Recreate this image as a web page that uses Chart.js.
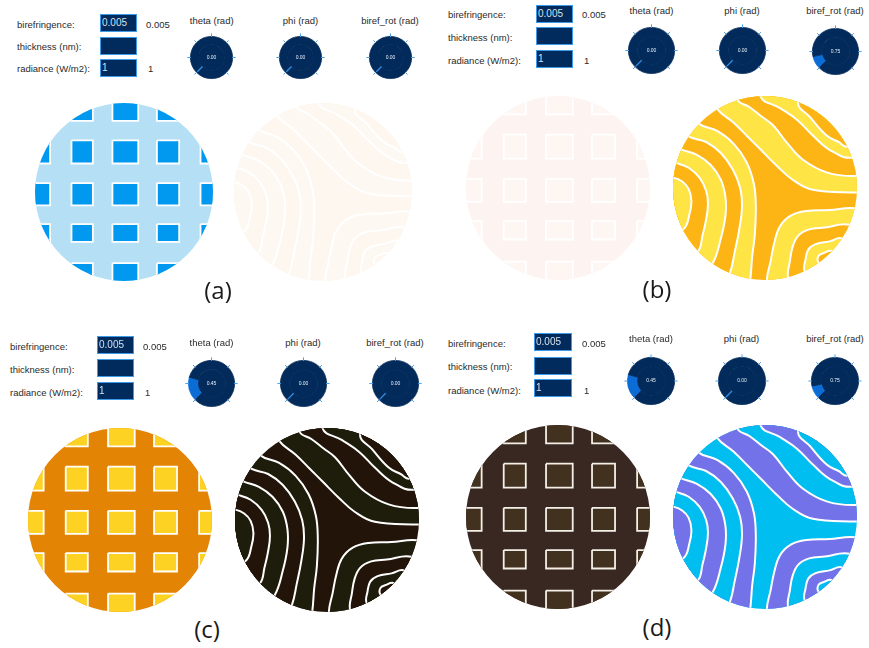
<!DOCTYPE html>
<html><head><meta charset="utf-8">
<script src="https://cdn.jsdelivr.net/npm/chart.js@4.4.1/dist/chart.umd.min.js"></script>
<style>
html,body{margin:0;padding:0;background:#fff;}
#page{position:relative;width:869px;height:648px;overflow:hidden;font-family:"Liberation Sans",Arial,sans-serif;color:#2a2a2a;}
.lbl{position:absolute;font-size:9.5px;line-height:12px;white-space:nowrap;transform:translateY(-50%);}
.box{position:absolute;background:#012b5c;border:1px solid #3d9ae8;box-sizing:border-box;color:#d6e0ec;font-size:10px;line-height:16px;padding-left:1px;overflow:hidden;}
.ttl{position:absolute;font-size:9.5px;line-height:12px;transform:translate(-50%,-50%);white-space:nowrap;}
.tag{position:absolute;font-family:"Open Sans",sans-serif;font-size:24px;line-height:30px;transform:translate(-50%,-50%);color:#1a1a1a;}
canvas{position:absolute;}
</style></head><body><div id="page"></div>
<script>
// ---- values shown in the four panels ----
const panelTags = ['(a)', '(b)', '(c)', '(d)'];
const formLabels = ['birefringence:', 'thickness (nm):', 'radiance (W/m2):'];
const birefringence = [0.005, 0.005, 0.005, 0.005];
const thicknessText = ['', '', '', ''];
const radiance = [1, 1, 1, 1];

const dialNames = ['theta (rad)', 'phi (rad)', 'biref_rot (rad)'];
const dialMax = [2, 2 * Math.PI, 2 * Math.PI];
const thetaValues = [0.00, 0.00, 0.45, 0.45];
const phiValues = [0.00, 0.00, 0.00, 0.00];
const birefRotValues = [0.00, 0.75, 0.00, 0.75];

// ---- cell pattern (unit-disc coordinates, y downward) ----
const cellLeft = [-1.07, -0.59, -0.13, 0.37, 0.86];
const cellRight = [-0.83, -0.35, 0.16, 0.62, 1.10];
const cellTop = [-1.04, -0.58, -0.10, 0.36, 0.80];
const cellBottom = [-0.80, -0.32, 0.15, 0.56, 1.05];

// ---- fringe contours (unit-disc coordinates), innermost-to-centre first ----
const leftFringes = [
  [[-0.72,-0.70],[-0.52,-0.62],[-0.34,-0.48],[-0.20,-0.28],[-0.12,-0.04],[-0.10,0.20],[-0.11,0.50],[-0.14,0.75],[-0.16,0.99]],
  [[-0.83,-0.56],[-0.64,-0.50],[-0.48,-0.38],[-0.35,-0.20],[-0.27,0.00],[-0.25,0.20],[-0.28,0.45],[-0.33,0.70],[-0.38,0.92]],
  [[-0.91,-0.42],[-0.74,-0.36],[-0.59,-0.25],[-0.48,-0.09],[-0.43,0.10],[-0.43,0.30],[-0.48,0.55],[-0.57,0.82]],
  [[-0.96,-0.27],[-0.83,-0.22],[-0.71,-0.11],[-0.64,0.03],[-0.62,0.17],[-0.64,0.34],[-0.68,0.52],[-0.73,0.69]],
  [[-0.99,-0.11],[-0.90,-0.07],[-0.83,0.01],[-0.80,0.14],[-0.82,0.28],[-0.89,0.45]]
];
const upperFringes = [
  [[-0.52,-0.86],[-0.34,-0.71],[-0.19,-0.56],[-0.04,-0.41],[0.13,-0.24],[0.30,-0.09],[0.52,0.02],[1.00,0.05]],
  [[-0.30,-0.96],[-0.17,-0.88],[-0.04,-0.78],[0.09,-0.68],[0.24,-0.49],[0.41,-0.31],[0.67,-0.17],[0.99,-0.13]],
  [[-0.05,-1.00],[0.16,-0.87],[0.35,-0.74],[0.52,-0.57],[0.71,-0.41],[0.95,-0.33]],
  [[0.36,-0.93],[0.49,-0.77],[0.67,-0.57],[0.80,-0.50],[0.90,-0.45]]
];
const lowerFringes = [
  [[0.02,1.00],[0.06,0.80],[0.10,0.60],[0.16,0.42],[0.28,0.30],[0.45,0.25],[0.70,0.24],[0.98,0.22]],
  [[0.25,0.97],[0.27,0.80],[0.30,0.64],[0.36,0.52],[0.48,0.45],[0.65,0.43],[0.92,0.40]],
  [[0.43,0.90],[0.44,0.78],[0.47,0.67],[0.55,0.61],[0.70,0.58],[0.84,0.55]],
  [[0.58,0.81],[0.58,0.74],[0.63,0.71],[0.73,0.69]]
];

// ---- styling and layout ----
const NAVY = '#022b5b', WEDGE = '#0b6cd6', NEEDLE = '#2f8fe6', TICK = '#4aa2ee';
const cellStyles = [
  {bg: '#b4dff5', cell: '#0099ef', edge: '#ffffff'},
  {bg: '#fdf4f1', cell: '#fef6f3', edge: '#ffffff'},
  {bg: '#e38405', cell: '#fed222', edge: '#ffffff'},
  {bg: '#392821', cell: '#42311f', edge: '#f4efe8'}
];
const fringeStyles = [
  {base: '#fdf7f0', alt: '#fdf8f2', line: '#ffffff'},
  {base: '#fdb415', alt: '#fee445', line: '#ffffff'},
  {base: '#231409', alt: '#1e1d0c', line: '#ffffff'},
  {base: '#00bef0', alt: '#7472e9', line: '#ffffff'}
];
const layout = [
  {lx: 17, ly: [25, 47, 69], bx: 100, bw: 37, by: [14, 37, 59], bh: 18, vx: 146,
   dials: [[211.7, 57], [300.5, 57], [390, 57]], dr: 21.5, ty: 21,
   cells: [123.5, 192, 89], fringe: [322.5, 192, 89], tag: [218, 290]},
  {lx: 448, ly: [15, 38, 61], bx: 536, bw: 37, by: [5, 27, 50], bh: 18, vx: 582,
   dials: [[651.5, 50.5], [742, 50.5], [835, 51]], dr: 23.5, ty: 11,
   cells: [558, 188, 92], fringe: [765, 187.5, 92], tag: [657, 289]},
  {lx: 10, ly: [347, 370, 393], bx: 97, bw: 37, by: [336, 359, 382], bh: 18, vx: 143,
   dials: [[211.5, 383], [303, 383], [395, 383]], dr: 23.5, ty: 343,
   cells: [119.5, 519.5, 92], fringe: [326.5, 519.5, 92], tag: [207, 629]},
  {lx: 448, ly: [344, 367, 391], bx: 534, bw: 38, by: [333, 357, 379], bh: 18, vx: 582,
   dials: [[651, 381], [741.5, 381], [835, 381]], dr: 24, ty: 339,
   cells: [558, 517, 92], fringe: [765, 517, 92], tag: [657, 627]}
];

const page = document.getElementById('page');
function addDiv(cls, text, style) {
  const d = document.createElement('div');
  d.className = cls; d.textContent = text;
  Object.assign(d.style, style);
  page.appendChild(d);
  return d;
}
function addCanvas(left, top, w, h) {
  const c = document.createElement('canvas');
  c.width = w; c.height = h;
  c.style.left = left + 'px'; c.style.top = top + 'px';
  page.appendChild(c);
  return c;
}
const baseOptions = () => ({
  responsive: false, animation: false, devicePixelRatio: 1, events: [],
  plugins: {legend: {display: false}, tooltip: {enabled: false}}
});

// clips the datasets of a disc chart to the unit circle and paints its ground
const discClip = {
  id: 'discClip',
  beforeDatasetsDraw(chart, args, opts) {
    const {ctx, scales: {x, y}} = chart;
    const cx = x.getPixelForValue(0), cy = y.getPixelForValue(0);
    const rad = x.getPixelForValue(1) - cx;
    ctx.save();
    ctx.beginPath(); ctx.arc(cx, cy, rad, 0, Math.PI * 2); ctx.clip();
    ctx.fillStyle = opts.ground;
    ctx.fillRect(cx - rad - 1, cy - rad - 1, 2 * rad + 2, 2 * rad + 2);
  },
  afterDatasetsDraw(chart) { chart.ctx.restore(); }
};

// ticks, zero needle and readout of a dial
const dialMarks = {
  id: 'dialMarks',
  afterDatasetsDraw(chart, args, opts) {
    const ctx = chart.ctx;
    const arc = chart.getDatasetMeta(0).data[0];
    const p = arc.getProps(['x', 'y', 'outerRadius', 'innerRadius', 'startAngle', 'circumference'], true);
    ctx.save();
    ctx.strokeStyle = TICK; ctx.lineWidth = 1;
    for (let a = -135; a <= 135; a += 45) {
      const t = (a - 90) * Math.PI / 180;
      ctx.beginPath();
      ctx.moveTo(p.x + Math.cos(t) * (p.outerRadius - 0.5), p.y + Math.sin(t) * (p.outerRadius - 0.5));
      ctx.lineTo(p.x + Math.cos(t) * (p.outerRadius + 3), p.y + Math.sin(t) * (p.outerRadius + 3));
      ctx.stroke();
    }
    if (p.circumference === 0) {
      ctx.strokeStyle = NEEDLE; ctx.lineWidth = 1.3;
      ctx.beginPath();
      ctx.moveTo(p.x + Math.cos(p.startAngle) * p.innerRadius, p.y + Math.sin(p.startAngle) * p.innerRadius);
      ctx.lineTo(p.x + Math.cos(p.startAngle) * (p.outerRadius - 1), p.y + Math.sin(p.startAngle) * (p.outerRadius - 1));
      ctx.stroke();
    }
    ctx.fillStyle = '#e6eef8';
    ctx.font = '5px "Liberation Sans", Arial, sans-serif';
    ctx.textAlign = 'center'; ctx.textBaseline = 'middle';
    ctx.fillText(opts.value.toFixed(2), p.x, p.y);
    ctx.restore();
  }
};

function makeDial(cx, cy, r, value, max) {
  const pad = 5;
  const size = Math.round(2 * r + 2 * pad);
  const c = addCanvas(Math.round(cx - size / 2), Math.round(cy - size / 2), size, size);
  const o = baseOptions();
  o.cutout = 0;
  o.layout = {padding: pad};
  o.plugins.dialMarks = {value};
  new Chart(c, {
    type: 'doughnut',
    data: {datasets: [
      {data: [value, max - value, max / 3], backgroundColor: [WEDGE, NAVY, NAVY], borderColor: [WEDGE, NAVY, NAVY],
       borderWidth: 0.8, rotation: -135, circumference: 360, weight: 0.4, hoverOffset: 0, offset: 0},
      {data: [1], backgroundColor: NAVY, borderColor: NAVY, borderWidth: 0.8, weight: 0.6, hoverOffset: 0, offset: 0}
    ]},
    options: o,
    plugins: [dialMarks]
  });
}

function discOptions(ground) {
  const o = baseOptions();
  o.layout = {padding: 0};
  o.scales = {
    x: {type: 'linear', min: -1, max: 1, display: false},
    y: {type: 'linear', min: -1, max: 1, reverse: true, display: false}
  };
  o.elements = {line: {capBezierPoints: false}, point: {radius: 0}};
  o.plugins.discClip = {ground};
  return o;
}

function makeCells(cx, cy, r, st) {
  const size = Math.round(2 * r);
  const c = addCanvas(Math.round(cx - r), Math.round(cy - r), size, size);
  const datasets = [];
  cellTop.forEach((t, i) => cellLeft.forEach((l, j) => {
    const rt = cellRight[j], b = cellBottom[i];
    datasets.push({
      data: [{x: l, y: t}, {x: rt, y: t}, {x: rt, y: b}, {x: l, y: b}, {x: l, y: t}],
      showLine: true, fill: 'shape', tension: 0, pointRadius: 0,
      backgroundColor: st.cell, borderColor: st.edge, borderWidth: 1.8, borderJoinStyle: 'miter'
    });
  }));
  new Chart(c, {type: 'scatter', data: {datasets}, options: discOptions(st.bg), plugins: [discClip]});
}

// each fringe closes on the rim side away from the centre of the pattern
const fringeFamilies = [
  {lines: leftFringes, anchor: [-2.6, 0.2]},
  {lines: upperFringes, anchor: [2.2, -2.2]},
  {lines: lowerFringes, anchor: [2.2, 2.2]}
];
function fringeShape(line, anchor) {
  const s = line[0], e = line[line.length - 1];
  const pts = [[s[0] * 1.6, s[1] * 1.6], ...line, [e[0] * 1.6, e[1] * 1.6], anchor];
  return pts.map(p => ({x: p[0], y: p[1]}));
}
function makeFringes(cx, cy, r, st) {
  const size = Math.round(2 * r);
  const c = addCanvas(Math.round(cx - r), Math.round(cy - r), size, size);
  const datasets = [];
  fringeFamilies.forEach(f => f.lines.forEach((line, k) => {
    datasets.push({
      data: fringeShape(line, f.anchor),
      showLine: true, fill: 'shape', tension: 0.4, pointRadius: 0,
      backgroundColor: k % 2 === 0 ? st.alt : st.base, borderColor: st.line, borderWidth: 2
    });
  }));
  datasets.forEach((d, i) => { d.order = -i; });
  new Chart(c, {type: 'scatter', data: {datasets}, options: discOptions(st.base), plugins: [discClip]});
}

layout.forEach((L, i) => {
  formLabels.forEach((t, k) => addDiv('lbl', t, {left: L.lx + 'px', top: L.ly[k] + 'px'}));
  const fieldText = [birefringence[i].toFixed(3), thicknessText[i], String(radiance[i])];
  fieldText.forEach((t, k) => addDiv('box', t, {left: L.bx + 'px', top: L.by[k] + 'px', width: L.bw + 'px', height: L.bh + 'px'}));
  addDiv('lbl', birefringence[i].toFixed(3), {left: L.vx + 'px', top: L.ly[0] + 'px'});
  addDiv('lbl', String(radiance[i]), {left: (L.vx + 2) + 'px', top: L.ly[2] + 'px'});
  const vals = [thetaValues[i], phiValues[i], birefRotValues[i]];
  L.dials.forEach((d, k) => {
    addDiv('ttl', dialNames[k], {left: d[0] + 'px', top: L.ty + 'px'});
    makeDial(d[0], d[1], L.dr, vals[k], dialMax[k]);
  });
  makeCells(L.cells[0], L.cells[1], L.cells[2], cellStyles[i]);
  makeFringes(L.fringe[0], L.fringe[1], L.fringe[2], fringeStyles[i]);
  addDiv('tag', panelTags[i], {left: L.tag[0] + 'px', top: L.tag[1] + 'px'});
});
</script></body></html>
